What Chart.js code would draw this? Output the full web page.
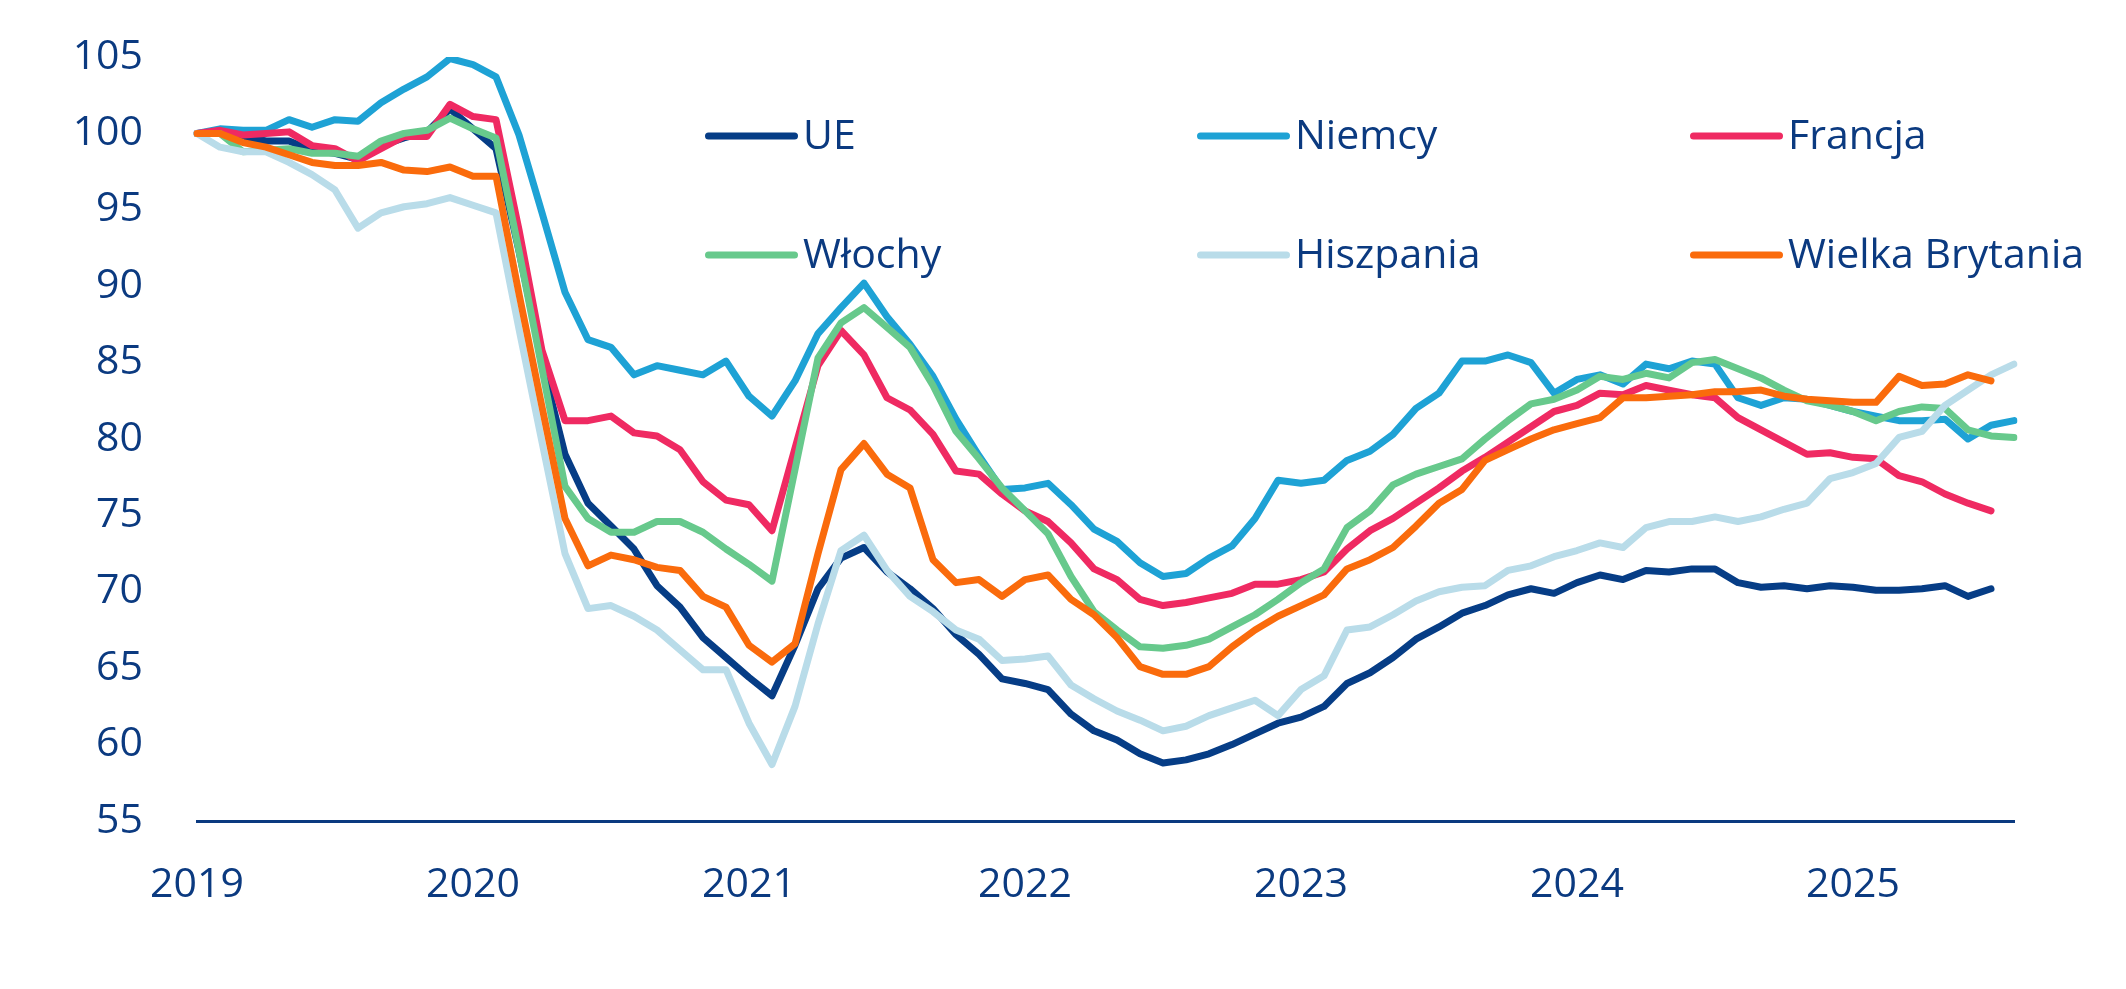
<!DOCTYPE html>
<html>
<head>
<meta charset="utf-8">
<script src="https://cdn.jsdelivr.net/npm/chart.js@4/dist/chart.umd.min.js"></script>
<style>
  html, body { margin: 0; padding: 0; background: #ffffff; }
  #wrap { width: 2126px; height: 989px; }
</style>
</head>
<body>
<div id="wrap"><canvas id="c" width="2126" height="989"></canvas></div>
<script>
// ---- Data ----
const years = ['2019', '2020', '2021', '2022', '2023', '2024', '2025'];
const monthsLastYear = 8; // data through Aug 2025
const categories = [];
years.forEach((y, k) => {
  const n = (k === years.length - 1) ? monthsLastYear : 12;
  for (let m = 1; m <= n; m++) categories.push(y + '-' + String(m).padStart(2, '0'));
});
const yTicks = [55, 60, 65, 70, 75, 80, 85, 90, 95, 100, 105];

const seriesNames = ['UE', 'Niemcy', 'Francja', 'Włochy', 'Hiszpania', 'Wielka Brytania'];

const ue = [100, 100.1, 99.8, 99.5, 99.5, 98.9, 98.7, 98.3, 99.2, 99.7, 100.1, 101.6,
  100.3, 99.0, 92.3, 85.0, 79.0, 75.8, 74.3, 72.8, 70.4, 69.0, 67.0, 65.7,
  64.4, 63.2, 66.5, 70.2, 72.2, 72.9, 71.3, 70.2, 68.9, 67.2, 65.9, 64.3,
  64.0, 63.6, 62.0, 60.9, 60.3, 59.4, 58.8, 59.0, 59.4, 60.0, 60.7, 61.4,
  61.8, 62.5, 64.0, 64.7, 65.7, 66.9, 67.7, 68.6, 69.1, 69.8, 70.2, 69.9,
  70.6, 71.1, 70.8, 71.4, 71.3, 71.5, 71.5, 70.6, 70.3, 70.4, 70.2, 70.4,
  70.3, 70.1, 70.1, 70.2, 70.4, 69.7, 70.2, null];

const niemcy = [100, 100.3, 100.2, 100.2, 100.9, 100.4, 100.9, 100.8, 102.0, 102.9, 103.7, 104.9,
  104.5, 103.7, 99.9, 94.8, 89.6, 86.5, 86.0, 84.2, 84.8, 84.5, 84.2, 85.1,
  82.8, 81.5, 83.8, 86.9, 88.6, 90.2, 88.0, 86.2, 84.1, 81.3, 78.9, 76.7,
  76.8, 77.1, 75.7, 74.1, 73.3, 71.9, 71.0, 71.2, 72.2, 73.0, 74.8, 77.3,
  77.1, 77.3, 78.6, 79.2, 80.3, 82.0, 83.0, 85.1, 85.1, 85.5, 85.0, 83.0,
  83.9, 84.2, 83.6, 84.9, 84.6, 85.1, 84.9, 82.7, 82.2, 82.7, 82.6, 82.2,
  81.8, 81.5, 81.2, 81.2, 81.3, 80.0, 80.9, 81.2];

const francja = [100, 100.2, 99.9, 100.0, 100.1, 99.2, 99.0, 98.2, 99.0, 99.8, 99.8, 101.9,
  101.1, 100.9, 93.7, 85.8, 81.2, 81.2, 81.5, 80.4, 80.2, 79.3, 77.2, 76.0,
  75.7, 74.0, 79.4, 84.8, 87.1, 85.5, 82.7, 81.9, 80.3, 77.9, 77.7, 76.4,
  75.3, 74.6, 73.2, 71.5, 70.8, 69.5, 69.1, 69.3, 69.6, 69.9, 70.5, 70.5,
  70.8, 71.3, 72.8, 74.0, 74.8, 75.8, 76.8, 77.9, 78.8, 79.8, 80.8, 81.8,
  82.2, 83.0, 82.9, 83.5, 83.2, 82.9, 82.7, 81.4, 80.6, 79.8, 79.0, 79.1,
  78.8, 78.7, 77.6, 77.2, 76.4, 75.8, 75.3, null];

const wlochy = [100, 100.0, 98.8, 98.9, 99.0, 98.7, 98.7, 98.5, 99.5, 100.0, 100.2, 101.0,
  100.3, 99.7, 92.3, 84.6, 76.9, 74.8, 73.9, 73.9, 74.6, 74.6, 73.9, 72.8,
  71.8, 70.7, 78.0, 85.3, 87.6, 88.6, 87.3, 86.0, 83.5, 80.5, 78.7, 76.8,
  75.3, 73.8, 71.0, 68.7, 67.5, 66.4, 66.3, 66.5, 66.9, 67.7, 68.5, 69.5,
  70.6, 71.5, 74.2, 75.3, 77.0, 77.7, 78.2, 78.7, 80.0, 81.2, 82.3, 82.6,
  83.2, 84.1, 83.9, 84.3, 84.0, 85.0, 85.2, 84.6, 84.0, 83.2, 82.5, 82.2,
  81.8, 81.2, 81.8, 82.1, 82.0, 80.6, 80.2, 80.1];

const hiszpania = [100, 99.1, 98.8, 98.8, 98.1, 97.3, 96.3, 93.8, 94.8, 95.2, 95.4, 95.8,
  95.3, 94.8, 87.2, 79.8, 72.5, 68.9, 69.1, 68.4, 67.5, 66.2, 64.9, 64.9,
  61.4, 58.7, 62.5, 67.9, 72.7, 73.7, 71.4, 69.7, 68.7, 67.5, 66.9, 65.5,
  65.6, 65.8, 63.9, 63.0, 62.2, 61.6, 60.9, 61.2, 61.9, 62.4, 62.9, 61.9,
  63.6, 64.5, 67.5, 67.7, 68.5, 69.4, 70.0, 70.3, 70.4, 71.4, 71.7, 72.3,
  72.7, 73.2, 72.9, 74.2, 74.6, 74.6, 74.9, 74.6, 74.9, 75.4, 75.8, 77.4,
  77.8, 78.4, 80.1, 80.5, 82.2, 83.2, 84.2, 84.9];

const wielkaBrytania = [100, 100.0, 99.4, 99.1, 98.6, 98.1, 97.9, 97.9, 98.1, 97.6, 97.5, 97.8,
  97.2, 97.2, 89.5, 82.1, 74.8, 71.7, 72.4, 72.1, 71.6, 71.4, 69.7, 69.0,
  66.5, 65.4, 66.6, 72.5, 78.0, 79.7, 77.7, 76.8, 72.1, 70.6, 70.8, 69.7,
  70.8, 71.1, 69.5, 68.5, 67.0, 65.1, 64.6, 64.6, 65.1, 66.4, 67.5, 68.4,
  69.1, 69.8, 71.5, 72.1, 72.9, 74.3, 75.8, 76.7, 78.6, 79.3, 80.0, 80.6,
  81.0, 81.4, 82.7, 82.7, 82.8, 82.9, 83.1, 83.1, 83.2, 82.8, 82.6, 82.5,
  82.4, 82.4, 84.1, 83.5, 83.6, 84.2, 83.8, null];

// ---- Styles ----
const seriesColors = ['#063d86', '#1ea2d5', '#ef2a62', '#67c98c', '#b9dce9', '#fa6b0c'];
const textColor = '#0b3a80';
const fontFamily = "'Open Sans', 'DejaVu Sans', sans-serif";
const allSeries = [ue, niemcy, francja, wlochy, hiszpania, wielkaBrytania];

const datasets = allSeries.map((vals, k) => ({
  label: seriesNames[k],
  data: vals,
  borderColor: seriesColors[k],
  backgroundColor: seriesColors[k],
  borderWidth: 7,
  pointRadius: 0,
  pointHoverRadius: 0,
  tension: 0,
  fill: false,
  spanGaps: false,
  borderCapStyle: 'round',
  borderJoinStyle: 'round',
  order: allSeries.length - k
}));

// Legend drawn in a 3x2 grid
const legendGrid = { colX: [705, 1197, 1690], rowY: [136, 255], lineLen: 93, lineW: 7, gap: 5, fontSize: 41 };
const gridLegend = {
  id: 'gridLegend',
  afterDraw(chart) {
    const ctx = chart.ctx;
    ctx.save();
    chart.data.datasets.forEach((ds, k) => {
      const col = k % 3, row = Math.floor(k / 3);
      const x0 = legendGrid.colX[col], y = legendGrid.rowY[row];
      ctx.strokeStyle = ds.borderColor;
      ctx.lineWidth = legendGrid.lineW;
      ctx.lineCap = 'round';
      ctx.beginPath();
      ctx.moveTo(x0 + legendGrid.lineW / 2, y);
      ctx.lineTo(x0 + legendGrid.lineLen - legendGrid.lineW / 2, y);
      ctx.stroke();
      ctx.fillStyle = textColor;
      ctx.font = legendGrid.fontSize + 'px ' + fontFamily;
      ctx.textAlign = 'left';
      ctx.textBaseline = 'middle';
      ctx.fillText(ds.label, x0 + legendGrid.lineLen + legendGrid.gap, y + 1);
    });
    ctx.restore();
  }
};

new Chart(document.getElementById('c'), {
  type: 'line',
  data: { labels: categories, datasets },
  plugins: [gridLegend],
  options: {
    responsive: false,
    devicePixelRatio: 1,
    animation: false,
    layout: { padding: { left: 0, right: 112, top: 57, bottom: 0 } },
    plugins: {
      legend: { display: false },
      tooltip: { enabled: false },
      title: { display: false }
    },
    scales: {
      x: {
        type: 'category',
        offset: false,
        grid: { display: false, drawTicks: false },
        border: { display: true, color: '#0b3a80', width: 3 },
        ticks: {
          autoSkip: false,
          maxRotation: 0,
          minRotation: 0,
          padding: 40,
          color: textColor,
          font: { family: fontFamily, size: 41 },
          callback: function (val, idx) {
            const lab = categories[idx];
            return lab.endsWith('-01') && years.includes(lab.slice(0, 4)) ? lab.slice(0, 4) : '';
          }
        },
        afterFit(scale) { scale.height = 168; }
      },
      y: {
        min: 55,
        max: 105,
        grid: { display: false, drawTicks: false },
        border: { display: false },
        afterBuildTicks(scale) { scale.ticks = yTicks.map(v => ({ value: v })); },
        ticks: {
          padding: 54,
          color: textColor,
          font: { family: fontFamily, size: 41 }
        },
        afterFit(scale) {
          scale.width = 197;
          scale.paddingTop = 26;
          scale.paddingBottom = 26;
        }
      }
    }
  }
});
</script>
</body>
</html>
